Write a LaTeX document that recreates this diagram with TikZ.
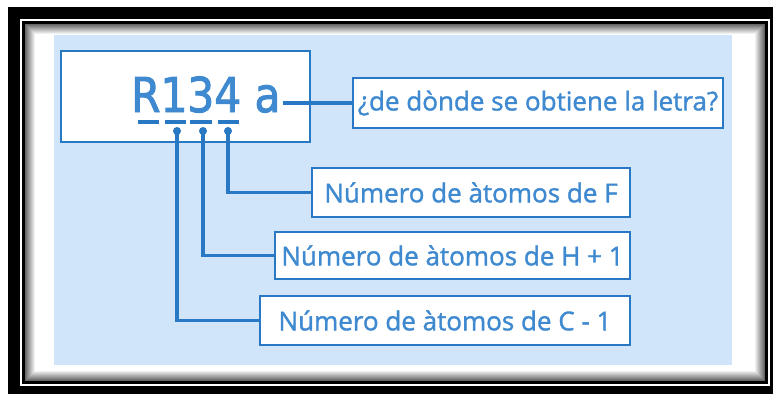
\documentclass[tikz,border=0pt]{standalone}
\usepackage{fontspec}
\setmainfont{Open Sans}
\newfontfamily\labelfont[FakeBold=1.3]{Open Sans}
\newfontfamily\titlefont[FakeStretch=0.88, FakeBold=2]{DejaVu Sans}
\definecolor{lineblue}{RGB}{40,120,195}
\definecolor{textblue}{RGB}{62,137,207}
\definecolor{bgblue}{RGB}{208,229,250}
\tikzset{
  labelbox/.style={draw=lineblue, line width=2.6pt, fill=white, text=textblue,
    font=\labelfont\fontsize{26}{30}\selectfont, inner sep=0pt, anchor=center},
  conn/.style={draw=lineblue, line width=3.6pt},
  uline/.style={draw=lineblue, line width=4pt},
  pin/.style={fill=lineblue}
}
\begin{document}
\begin{tikzpicture}[x=1pt,y=-1pt]
\useasboundingbox (0,0) rectangle (773,394);
% frame
\fill[white] (0,0) rectangle (773,394);
\fill[black] (8,7) rectangle (773,394);
\fill[white] (20,19) rectangle (770,386);
\fill[black] (22,21) rectangle (768,384);
\fill[white] (25,24) rectangle (765,381);
\foreach \i [evaluate=\i as \c using 60-6*\i] in {0,...,9}
  \draw[line width=1pt, black!\c] (25.5+\i,24.5+\i) rectangle (764.5-\i,380.5-\i);
% background
\fill[bgblue] (54,35) rectangle (732,365);
% main box
\node[draw=lineblue, line width=2.6pt, fill=white, minimum width=249pt, minimum height=91pt, inner sep=0pt] (main) at (185.5,96.5) {};
\node[anchor=base west, inner sep=0pt, text=textblue, font=\titlefont\fontsize{48}{52}\selectfont] (title) at (131,112) {R134 a};
% underlines
\coordinate (u1a) at (138,122); \coordinate (u1b) at (159,122);
\coordinate (u2a) at (165,122); \coordinate (u2b) at (186,122);
\coordinate (u3a) at (190,122); \coordinate (u3b) at (212,122);
\coordinate (u4a) at (218,122); \coordinate (u4b) at (239,122);
\draw[uline] (u1a) -- (u1b);
\draw[uline] (u2a) -- (u2b);
\draw[uline] (u3a) -- (u3b);
\draw[uline] (u4a) -- (u4b);
% pins
\coordinate (d1) at (177,131);
\coordinate (d2) at (203,131);
\coordinate (d3) at (228,131);
\fill[pin] (d1) circle (4pt);
\fill[pin] (d2) circle (4pt);
\fill[pin] (d3) circle (4pt);
% label boxes
\node[labelbox, minimum width=370pt, minimum height=50pt] (Q) at (538,103) {¿de dònde se obtiene la letra?};
\node[labelbox, minimum width=318pt, minimum height=49pt] (F) at (471,192.5) {Número de àtomos de F};
\node[labelbox, minimum width=355pt, minimum height=47pt] (H) at (452.5,255.5) {Número de àtomos de H + 1};
\node[labelbox, minimum width=370pt, minimum height=49pt] (C) at (445,320.5) {Número de àtomos de C - 1};
% connectors
\coordinate (aend) at (283,103);
\draw[conn] (aend) -- (Q.west);
\draw[conn] (d3) |- (F.west);
\draw[conn] (d2) |- (H.west);
\draw[conn] (d1) |- (C.west);
\end{tikzpicture}
\end{document}
